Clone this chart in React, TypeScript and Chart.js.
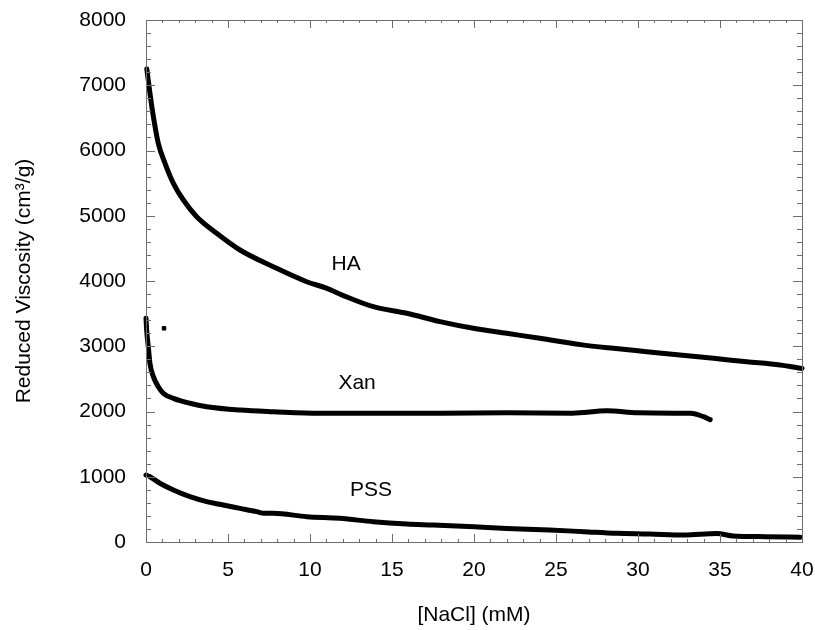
import React, { useEffect, useRef } from "react";
import { Chart, registerables } from "chart.js";

Chart.register(...registerables);

// ---- data ----
const haX = [0.05, 0.1, 0.24, 0.45, 0.75, 1.16, 1.67, 2.28, 3.09, 4.31, 5.73, 7.76, 9.8, 11.0, 12.0, 13.86, 15.9, 17.93, 19.96, 21.99, 24.02, 26.5, 28.5, 30.53, 32.56, 34.6, 36.63, 38.66, 40.0];
const haY = [7250, 7150, 6880, 6518, 6110, 5804, 5497, 5241, 4985, 4731, 4475, 4219, 3989, 3890, 3780, 3606, 3505, 3377, 3275, 3198, 3122, 3025, 2968, 2917, 2866, 2815, 2763, 2713, 2660];

const xanX = [0.0, 0.04, 0.14, 0.24, 0.45, 0.75, 1.06, 1.67, 2.68, 3.7, 5.73, 7.76, 10.6, 14.0, 18.0, 22.0, 26.0, 28.1, 30.0, 33.2, 34.0, 34.4];
const xanY = [3430, 3249, 2993, 2739, 2534, 2380, 2279, 2202, 2126, 2074, 2023, 1997, 1972, 1975, 1972, 1980, 1975, 2010, 1980, 1972, 1920, 1875];
const xanDotX = [1.1];
const xanDotY = [3275];

const pssX = [0.0, 0.24, 0.85, 1.67, 2.68, 3.7, 4.71, 5.73, 6.75, 7.2, 7.76, 9.8, 11.83, 13.86, 15.9, 17.5, 20.0, 22.0, 24.6, 26.7, 28.7, 30.7, 32.8, 34.8, 35.8, 37.8, 39.9];
const pssY = [1027, 1000, 900, 797, 694, 618, 567, 516, 465, 440, 440, 388, 363, 311, 276, 260, 232, 208, 184, 158, 133, 123, 107, 130, 92, 82, 72];

const xTicks = [0, 5, 10, 15, 20, 25, 30, 35, 40];
const yTicks = [0, 1000, 2000, 3000, 4000, 5000, 6000, 7000, 8000];

const curveLabels = ["HA", "Xan", "PSS"];
const curveLabelX = [12.2, 12.87, 13.72];
const curveLabelY = [4260, 2437, 797];

const FONT = "'Liberation Sans', Arial, sans-serif";

const toPts = (xs: number[], ys: number[]) => xs.map((x, i) => ({ x, y: ys[i] }));

const framePlugin = {
  id: "frame",
  afterDatasetsDraw(chart: any) {
    const { ctx, chartArea, scales } = chart;
    const { left, right, top, bottom } = chartArea;
    const xs = scales.x;
    const ys = scales.y;
    ctx.save();
    ctx.strokeStyle = "#6e6e6e";
    ctx.lineWidth = 1;
    ctx.strokeRect(left + 0.5, top + 0.5, right - left, bottom - top);
    ctx.beginPath();
    for (let v = 0; v <= 40; v += 1) {
      const px = Math.round(xs.getPixelForValue(v)) + 0.5;
      const len = v % 5 === 0 ? 8 : 3;
      ctx.moveTo(px, bottom);
      ctx.lineTo(px, bottom - len);
      ctx.moveTo(px, top);
      ctx.lineTo(px, top + len);
    }
    for (let v = 0; v <= 8000; v += 200) {
      const py = Math.round(ys.getPixelForValue(v)) + 0.5;
      const len = v % 1000 === 0 ? 9 : 5;
      ctx.moveTo(left, py);
      ctx.lineTo(left + len, py);
      ctx.moveTo(right, py);
      ctx.lineTo(right - len, py);
    }
    ctx.stroke();
    ctx.fillStyle = "#000";
    ctx.font = `21px ${FONT}`;
    ctx.textAlign = "center";
    ctx.textBaseline = "middle";
    curveLabels.forEach((t, i) => {
      ctx.fillText(t, xs.getPixelForValue(curveLabelX[i]), ys.getPixelForValue(curveLabelY[i]));
    });
    ctx.restore();
  },
};

const noPad = (s: any) => {
  s.paddingLeft = 0;
  s.paddingRight = 0;
  s.paddingTop = 0;
  s.paddingBottom = 0;
};

export default function App() {
  const ref = useRef<HTMLCanvasElement | null>(null);
  useEffect(() => {
    if (!ref.current) return;
    const lineDs = (label: string, xs: number[], ys: number[]) => ({
      label,
      data: toPts(xs, ys),
      showLine: true,
      borderColor: "#000",
      backgroundColor: "#000",
      borderWidth: 5,
      pointRadius: 0,
      cubicInterpolationMode: "monotone" as const,
      borderCapStyle: "round" as const,
      borderJoinStyle: "round" as const,
      clip: false as any,
    });
    const chart = new Chart(ref.current, {
      type: "scatter",
      data: {
        datasets: [
          lineDs("HA", haX, haY),
          lineDs("Xan", xanX, xanY),
          lineDs("PSS", pssX, pssY),
          {
            label: "Xan outlier",
            data: toPts(xanDotX, xanDotY),
            showLine: false,
            pointRadius: 2.5,
            pointStyle: "rect",
            backgroundColor: "#000",
            borderColor: "#000",
            clip: false as any,
          },
        ],
      },
      options: {
        animation: false,
        responsive: true,
        maintainAspectRatio: false,
        layout: { padding: { top: 20, right: 13, left: 0, bottom: 0 } },
        plugins: { legend: { display: false }, tooltip: { enabled: false } },
        scales: {
          x: {
            type: "linear",
            min: 0,
            max: 40,
            afterFit: (s: any) => {
              s.height = 88;
              noPad(s);
            },
            afterBuildTicks: (s: any) => {
              s.ticks = xTicks.map((v) => ({ value: v }));
            },
            grid: { display: false, drawTicks: false },
            border: { display: false },
            ticks: {
              color: "#000",
              font: { family: FONT, size: 21 },
              padding: 16,
              maxRotation: 0,
              callback: (v: any) => String(v),
            },
            title: {
              display: true,
              text: "[NaCl] (mM)",
              color: "#000",
              font: { family: FONT, size: 21 },
              padding: { top: 0, bottom: 2 },
            },
          },
          y: {
            type: "linear",
            min: 0,
            max: 8000,
            afterFit: (s: any) => {
              s.width = 146;
              noPad(s);
            },
            afterBuildTicks: (s: any) => {
              s.ticks = yTicks.map((v) => ({ value: v }));
            },
            grid: { display: false, drawTicks: false },
            border: { display: false },
            ticks: {
              color: "#000",
              font: { family: FONT, size: 21 },
              padding: 20,
              callback: (v: any) => String(v),
            },
            title: {
              display: true,
              text: "Reduced Viscosity (cm³/g)",
              color: "#000",
              font: { family: FONT, size: 21 },
              padding: { top: 12, bottom: 0 },
            },
          },
        },
      },
      plugins: [framePlugin],
    });
    return () => chart.destroy();
  }, []);
  return (
    <div style={{ position: "fixed", left: 0, top: 0, width: 815, height: 630, background: "#fff" }}>
      <canvas ref={ref} />
    </div>
  );
}
